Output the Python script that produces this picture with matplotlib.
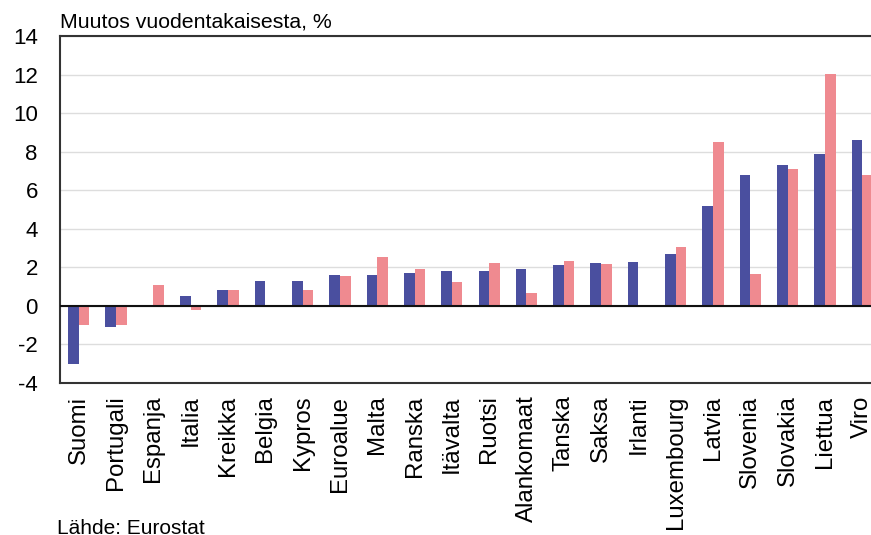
import numpy as np
import matplotlib
matplotlib.use("Agg")
import matplotlib.pyplot as plt

plt.rcParams['font.family'] = ['Liberation Sans', 'DejaVu Sans']

categories = ["Suomi", "Portugali", "Espanja", "Italia", "Kreikka", "Belgia", "Kypros",
              "Euroalue", "Malta", "Ranska", "Itävalta", "Ruotsi", "Alankomaat", "Tanska",
              "Saksa", "Irlanti", "Luxembourg", "Latvia", "Slovenia", "Slovakia", "Liettua", "Viro"]
series_blue = [-3.0, -1.1, 0.05, 0.5, 0.8, 1.3, 1.3, 1.6, 1.6, 1.7, 1.8, 1.8, 1.9, 2.1,
               2.2, 2.3, 2.7, 5.2, 6.8, 7.3, 7.9, 8.6]
series_pink = [-1.0, -1.0, 1.1, -0.2, 0.8, np.nan, 0.8, 1.55, 2.55, 1.9, 1.25, 2.2, 0.65, 2.35,
               2.15, np.nan, 3.05, 8.5, 1.65, 7.1, 12.05, 6.8]
yticks = [-4, -2, 0, 2, 4, 6, 8, 10, 12, 14]

W, H = 871, 535
fig = plt.figure(figsize=(W / 100, H / 100), dpi=100)
ax = fig.add_axes([60 / W, (H - 383) / H, 821 / W, (383 - 36) / H])

x = np.arange(len(categories))
w = 0.285
ax.bar(x - w / 2, series_blue, width=w, color="#4a4f9f", zorder=3)
ax.bar(x + w / 2, series_pink, width=w, color="#ef8a90", zorder=3)

ax.set_xlim(-0.5, len(categories) - 0.5)
ax.set_ylim(-4, 14)
ax.set_yticks(yticks)
ax.set_yticklabels([str(t) for t in yticks], fontsize=16)
ax.tick_params(axis='y', length=0, pad=16)
ax.set_xticks(x)
ax.set_xticklabels(categories, rotation=90, fontsize=17.3)
ax.tick_params(axis='x', length=0, pad=9)

ax.grid(axis='y', color="#dddddd", linewidth=1, zorder=0)
ax.axhline(0, color="#111111", linewidth=1.5, zorder=4)
for s in ["top", "left", "bottom", "right"]:
    ax.spines[s].set_color("#333333")
    ax.spines[s].set_linewidth(1.5)

fig.text(60 / W, 1 - 22 / H, "Muutos vuodentakaisesta, %", fontsize=15.3, ha="left", va="center")
fig.text(57 / W, 1.5 / H, "Lähde: Eurostat", fontsize=15, ha="left", va="baseline")

fig.savefig("out.png", dpi=100)
